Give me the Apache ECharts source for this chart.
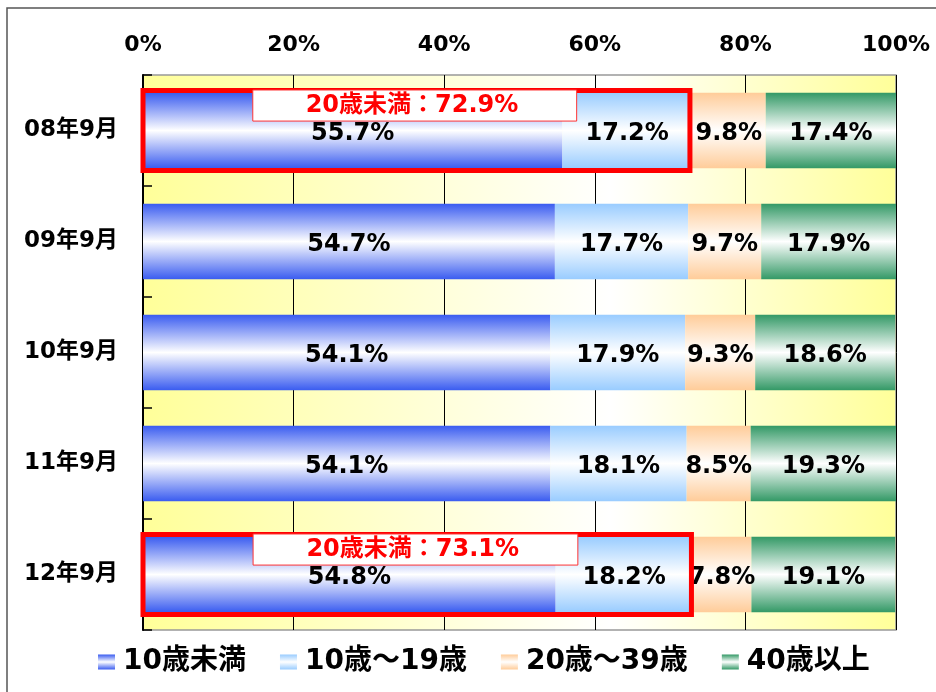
<!DOCTYPE html>
<html lang="ja">
<head>
<meta charset="UTF-8">
<title>年齢別構成比</title>
<script src="https://cdn.jsdelivr.net/npm/echarts@6/dist/echarts.min.js"></script>
<style>html, body { margin: 0; padding: 0; background: #fff; }</style>
</head>
<body>
<div id="main" style="width: 936px; height: 692px"></div>
<script>
// data
const categories = ['08年9月', '09年9月', '10年9月', '11年9月', '12年9月'];
const seriesNames = ['10歳未満', '10歳～19歳', '20歳～39歳', '40歳以上'];
const under10 = [55.7, 54.7, 54.1, 54.1, 54.8];
const age10to19 = [17.2, 17.7, 17.9, 18.1, 18.2];
const age20to39 = [9.8, 9.7, 9.3, 8.5, 7.8];
const over40 = [17.4, 17.9, 18.6, 19.3, 19.1];
// rows with the red "under 20" box
const highlightRows = [0, 4];
const highlightTotals = [72.9, 73.1];
const highlightPrefix = '20歳未満：';

const FONT = '"DejaVu Sans", "Noto Sans CJK JP", sans-serif';
const barColors = ['#3a5cf0', '#99ccff', '#ffcc99', '#339966'];

function fade(c) {
  return new echarts.graphic.LinearGradient(0, 0, 0, 1, [
    { offset: 0, color: c },
    { offset: 0.5, color: '#ffffff' },
    { offset: 1, color: c }
  ]);
}

const chart = echarts.init(document.getElementById('main'));

const values = [under10, age10to19, age20to39, over40];
const barSeries = values.map((arr, i) => ({
  name: seriesNames[i],
  type: 'bar',
  stack: 'total',
  barCategoryGap: '32%',
  data: arr,
  itemStyle: { color: fade(barColors[i]) },
  label: {
    show: true,
    position: 'inside',
    offset: [0, 3],
    formatter: p => p.value.toFixed(1) + '%',
    color: '#000',
    fontSize: 24,
    fontWeight: 'bold',
    fontFamily: FONT
  }
}));

const highlightSeries = {
  type: 'custom',
  z: 10,
  data: highlightRows.map((r, i) => [r, highlightTotals[i]]),
  encode: { y: 0, x: 1 },
  renderItem(params, api) {
    const row = api.value(0);
    const total = api.value(1);
    const start = api.coord([0, row]);
    const end = api.coord([total, row]);
    const band = api.size([0, 1])[1];
    const w = end[0] - start[0];
    const h = band * 0.72;
    const cy = start[1];
    return {
      type: 'group',
      children: [
        {
          type: 'rect',
          shape: { x: start[0], y: cy - h / 2, width: w - 2, height: h },
          style: { fill: 'none', stroke: '#ff0000', lineWidth: 5 }
        },
        {
          type: 'rect',
          shape: { x: start[0] + w * 0.2, y: cy - band * 0.365, width: w * 0.59, height: band * 0.28 },
          style: { fill: '#ffffff', stroke: '#ff3333', lineWidth: 1 }
        },
        {
          type: 'text',
          x: start[0] + w * 0.49,
          y: cy - band * 0.225,
          style: {
            text: highlightPrefix + total.toFixed(1) + '%',
            fill: '#ff0000',
            font: 'bold 24px ' + FONT,
            align: 'center',
            verticalAlign: 'middle'
          }
        }
      ]
    };
  }
};

chart.setOption({
  animation: false,
  graphic: [{
    type: 'rect',
    z: -10,
    shape: { x: 7, y: 8, width: 1000, height: 1000 },
    style: { fill: 'none', stroke: '#555', lineWidth: 1.5 }
  }],
  grid: {
    left: 143, right: 40, top: 75, bottom: 62,
    containLabel: false,
    outerBoundsMode: 'none',
    show: true,
    borderColor: '#999',
    borderWidth: 1.5,
    backgroundColor: new echarts.graphic.LinearGradient(0, 0, 1, 0, [
      { offset: 0, color: '#ffff99' },
      { offset: 0.62, color: '#ffffff' },
      { offset: 1, color: '#ffff99' }
    ])
  },
  legend: {
    data: seriesNames,
    left: 93,
    top: 643,
    icon: 'rect',
    itemWidth: 17,
    itemHeight: 15,
    itemGap: 34,
    textStyle: { fontSize: 28, fontWeight: 'bold', fontFamily: FONT, color: '#000', padding: [0, 0, 0, 3] }
  },
  xAxis: {
    type: 'value',
    position: 'top',
    min: 0,
    max: 100,
    interval: 20,
    axisLine: { show: false },
    axisTick: { show: false },
    splitLine: { show: true, lineStyle: { color: '#000', width: 1 } },
    axisLabel: {
      formatter: '{value}%',
      margin: 19,
      color: '#000',
      fontSize: 22,
      fontWeight: 'bold',
      fontFamily: FONT
    }
  },
  yAxis: {
    type: 'category',
    data: categories,
    inverse: true,
    axisLine: { show: true, lineStyle: { color: '#000', width: 2 } },
    axisTick: { show: true, inside: true, length: 9, lineStyle: { color: '#000', width: 1.5 } },
    axisLabel: {
      margin: 25,
      color: '#000',
      fontSize: 23,
      fontWeight: 'bold',
      fontFamily: FONT
    }
  },
  series: [...barSeries, highlightSeries]
});
</script>
</body>
</html>
